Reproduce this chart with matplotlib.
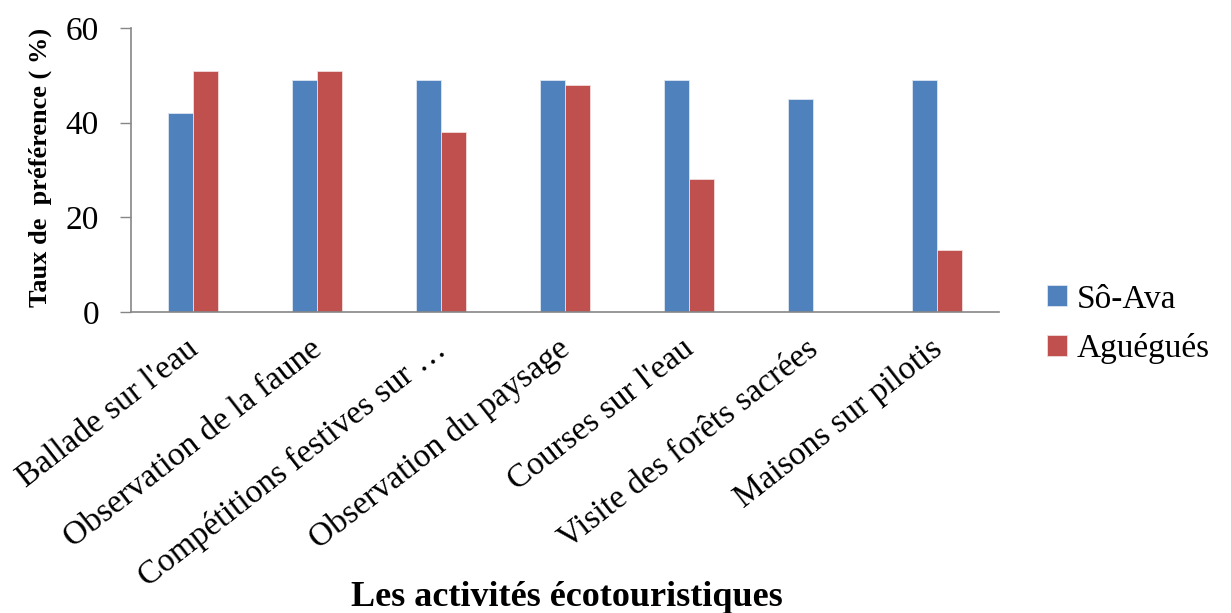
import numpy as np
import matplotlib
matplotlib.use('Agg')
import matplotlib.pyplot as plt
import matplotlib.transforms as mtransforms

activites = ["Ballade sur l'eau", 'Observation de la faune', 'Compétitions festives sur …',
             'Observation du paysage', "Courses sur l'eau", 'Visite des forêts sacrées',
             'Maisons sur pilotis']
so_ava = [42, 49, 49, 49, 49, 45, 49]
aguegues = [51, 51, 38, 48, 28, 0, 13]
y_ticks = [0, 20, 40, 60]

plt.rcParams['font.family'] = ['Liberation Serif', 'DejaVu Serif']
fig = plt.figure(figsize=(12.31, 6.13), dpi=100)
ax = fig.add_axes([131 / 1231, 1 - 312 / 613, 868 / 1231, 284 / 613])

x = np.arange(len(activites))
w = 0.2
ax.bar(x - w / 2, so_ava, w, color='#4F81BD', edgecolor='#dce6f2', linewidth=0.6, label='Sô-Ava')
ax.bar(x + w / 2, aguegues, w, color='#C0504D', edgecolor='#f2dcdb', linewidth=0.6, label='Aguégués')

ax.set_xlim(-0.5, len(activites) - 0.5)
ax.set_ylim(0, 60)
ax.set_yticks(y_ticks)
ax.set_yticklabels([str(v) for v in y_ticks], fontsize=24)
ax.tick_params(axis='y', direction='out', length=8, width=1, color='#868686', pad=15)
ax.set_xticks(x)
ax.set_xticklabels(activites, fontsize=24, rotation=38, ha='right', va='top',
                   rotation_mode='anchor')
ax.tick_params(axis='x', length=0, pad=14)
# small nudge of the slanted labels
shift = mtransforms.ScaledTranslation(-8 / 100, -2 / 100, fig.dpi_scale_trans)
for lab in ax.get_xticklabels():
    lab.set_transform(lab.get_transform() + shift)
for s in ['top', 'right']:
    ax.spines[s].set_visible(False)
for s in ['left', 'bottom']:
    ax.spines[s].set_color('#868686')
    ax.spines[s].set_linewidth(1.2)

fig.text(40 / 1231, 1 - 167 / 613, 'Taux de  préférence ( %)', rotation=90,
         ha='center', va='center', fontsize=19, fontweight='bold')
fig.text(567 / 1231, 1 - 606 / 613, 'Les activités écotouristiques',
         ha='center', va='baseline', fontsize=26, fontweight='bold')

fig.legend(loc='center left', bbox_to_anchor=(1047 / 1231, 1 - 324 / 613), frameon=False,
           fontsize=24, handlelength=0.6, handleheight=0.6, handletextpad=0.3,
           labelspacing=0.55, borderpad=0, borderaxespad=0)

fig.savefig('out.png', dpi=100)
